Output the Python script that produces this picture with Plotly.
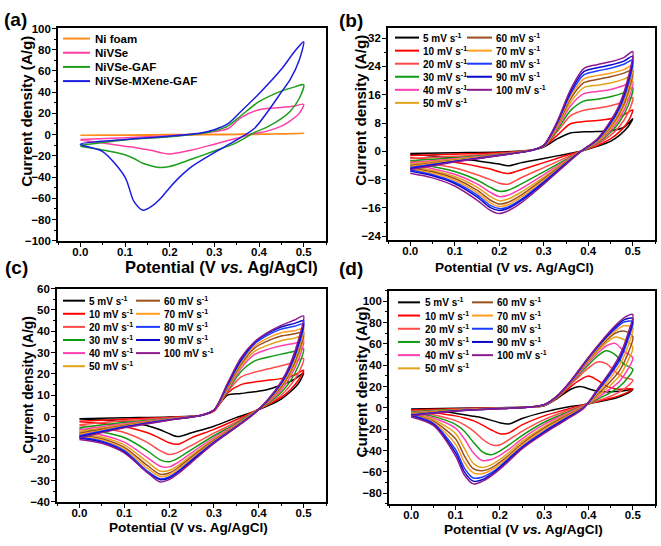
import plotly.graph_objects as go

W, H = 661, 546
FONT = "Liberation Sans, Arial, sans-serif"

# ---------------- shared series info ----------------
RATES = [5, 10, 20, 30, 40, 50, 60, 70, 80, 90, 100]
RATE_LABELS = [f"{r} mV s<sup>-1</sup>" for r in RATES]
RATE_COLORS = ["#000000", "#FF0000", "#FF4A4A", "#129A12", "#FF3FB0", "#E3A21A",
               "#9A4F1C", "#FF9E1F", "#1F3DFF", "#0A0ACF", "#8E1B8E"]

# ---------------- panel (a) ----------------
A_NAMES = ["Ni foam", "NiVSe", "NiVSe-GAF", "NiVSe-MXene-GAF"]
A_COLORS = ["#FF8C1A", "#FF3FA4", "#1E9E1E", "#1C1CE0"]
A_FWD_X = [0.0, 0.1, 0.2, 0.27, 0.3, 0.33, 0.36, 0.4, 0.45, 0.48, 0.5]
A_REV_X = [0.49, 0.47, 0.45, 0.42, 0.39, 0.35, 0.3, 0.25, 0.22, 0.2, 0.18, 0.16, 0.14, 0.12, 0.1, 0.05, 0.0]
A_FWD_Y = [
    [-0.5, -0.3, 0.0, 0.2, 0.3, 0.4, 0.5, 0.6, 0.8, 1.0, 1.2],
    [-4.5, -3.0, -1.0, 1.0, 2.8, 5.5, 16.0, 23.5, 25.5, 27.0, 28.5],
    [-10.0, -5.0, -2.0, 1.0, 3.5, 8.0, 18.0, 31.0, 41.0, 45.0, 47.0],
    [-9.0, -4.6, -1.5, 1.5, 4.6, 10.0, 22.0, 38.5, 61.5, 78.5, 87.5],
]
A_REV_Y = [
    [1.0, 0.8, 0.6, 0.4, 0.2, 0.0, -0.2, -0.3, -0.4, -0.4, -0.4, -0.5, -0.5, -0.5, -0.5, -0.5, -0.5],
    [20.0, 13.0, 8.0, 3.5, 1.0, -3.5, -9.0, -14.5, -17.0, -18.3, -17.0, -15.0, -13.5, -12.0, -11.0, -8.0, -5.0],
    [34.0, 22.0, 15.0, 7.5, 2.0, -7.5, -15.5, -23.0, -27.5, -30.0, -31.0, -29.5, -27.0, -22.5, -19.0, -14.5, -11.0],
    [70.0, 52.0, 40.0, 22.0, 6.0, -5.0, -17.0, -30.0, -41.0, -50.0, -60.0, -67.5, -71.3, -63.0, -40.0, -16.0, -9.0],
]

# ---------------- panel (b) ----------------
B_FWD_X = [0.0, 0.1, 0.2, 0.27, 0.3, 0.33, 0.36, 0.39, 0.42, 0.45, 0.48, 0.5]
B_REV_X = [0.49, 0.47, 0.45, 0.42, 0.385, 0.35, 0.3, 0.25, 0.22, 0.2, 0.18, 0.15, 0.1, 0.05, 0.0]
B_FWD_Y = [
    [-0.6, -0.4, -0.2, 0.3, 1.2, 3.5, 5.2, 5.5, 5.6, 5.8, 6.8, 9.2],
    [-1.2, -0.8, -0.4, 0.3, 1.4, 4.5, 7.8, 8.4, 8.7, 9.2, 10.3, 11.7],
    [-2.0, -1.4, -0.6, 0.3, 1.5, 5.5, 10.0, 11.6, 12.2, 12.9, 14.0, 15.2],
    [-2.7, -1.8, -0.8, 0.2, 1.5, 6.0, 11.5, 14.2, 14.7, 15.4, 16.6, 18.0],
    [-3.2, -2.1, -0.9, 0.2, 1.5, 6.5, 12.8, 16.3, 16.9, 17.5, 18.6, 19.8],
    [-3.6, -2.3, -1.0, 0.2, 1.6, 7.0, 13.8, 18.0, 18.7, 19.3, 20.4, 21.6],
    [-4.0, -2.5, -1.0, 0.2, 1.6, 7.3, 14.8, 19.4, 20.3, 21.1, 22.1, 23.0],
    [-4.3, -2.6, -1.1, 0.2, 1.6, 7.6, 15.5, 20.5, 21.4, 22.1, 23.1, 24.3],
    [-4.6, -2.8, -1.1, 0.2, 1.7, 7.9, 16.2, 21.6, 22.7, 23.5, 24.6, 25.8],
    [-4.9, -2.9, -1.2, 0.2, 1.7, 8.1, 16.8, 22.5, 23.6, 24.4, 25.5, 26.9],
    [-5.2, -3.0, -1.2, 0.2, 1.8, 8.4, 17.4, 23.4, 24.5, 25.3, 26.5, 28.2],
]
B_REV_Y = [
    [7.0, 4.5, 2.8, 1.4, 0.1, -0.8, -2.0, -3.2, -4.1, -3.6, -3.2, -2.7, -1.9, -1.3, -0.9],
    [8.5, 5.5, 3.5, 1.6, 0.1, -1.2, -3.2, -5.2, -6.3, -5.8, -5.0, -4.2, -3.1, -2.4, -1.8],
    [11.0, 7.0, 4.5, 2.0, 0.1, -1.8, -4.6, -7.4, -9.3, -9.0, -8.0, -6.6, -4.7, -3.6, -2.7],
    [13.0, 8.3, 5.3, 2.3, 0.1, -2.3, -5.8, -9.2, -11.0, -11.3, -10.2, -8.1, -5.7, -4.3, -3.3],
    [14.5, 9.2, 5.9, 2.5, 0.1, -2.6, -6.6, -10.5, -12.4, -12.8, -11.6, -9.2, -6.5, -4.9, -3.9],
    [16.0, 10.0, 6.4, 2.7, 0.1, -2.9, -7.3, -11.5, -13.5, -14.0, -12.8, -10.1, -7.1, -5.4, -4.3],
    [17.0, 10.7, 6.9, 2.9, 0.1, -3.1, -7.8, -12.3, -14.4, -14.9, -13.8, -11.0, -7.7, -5.8, -4.7],
    [18.0, 11.3, 7.3, 3.0, 0.1, -3.3, -8.2, -12.9, -15.1, -15.6, -14.6, -11.7, -8.2, -6.2, -5.0],
    [19.0, 12.0, 7.8, 3.2, 0.1, -3.4, -8.6, -13.5, -15.7, -16.2, -15.3, -12.3, -8.7, -6.6, -5.3],
    [20.0, 12.6, 8.2, 3.3, 0.1, -3.5, -8.9, -13.9, -16.1, -16.7, -15.9, -12.9, -9.1, -6.9, -5.6],
    [21.0, 13.2, 8.6, 3.5, 0.1, -3.7, -9.3, -14.5, -16.8, -17.6, -16.7, -13.8, -9.8, -7.5, -6.2],
]

# ---------------- panel (c) ----------------
C_FWD_X = [0.0, 0.1, 0.2, 0.27, 0.3, 0.33, 0.36, 0.39, 0.42, 0.45, 0.48, 0.5]
C_REV_X = [0.49, 0.47, 0.45, 0.42, 0.39, 0.35, 0.3, 0.25, 0.22, 0.2, 0.18, 0.15, 0.1, 0.05, 0.0]
C_FWD_Y = [
    [-1.0, -0.6, -0.2, 0.5, 3.0, 10.0, 10.8, 11.6, 12.7, 14.8, 17.5, 20.5],
    [-2.2, -1.2, -0.4, 0.5, 2.5, 11.0, 15.0, 16.2, 17.0, 17.8, 19.5, 21.8],
    [-3.8, -2.0, -0.6, 0.5, 2.8, 11.5, 18.5, 20.8, 22.3, 23.8, 25.6, 27.2],
    [-5.2, -2.8, -0.9, 0.5, 3.0, 12.0, 21.0, 26.0, 27.8, 29.3, 30.6, 31.8],
    [-6.2, -3.4, -1.0, 0.5, 3.0, 12.5, 22.5, 29.0, 31.5, 33.2, 34.4, 35.4],
    [-7.0, -3.8, -1.2, 0.5, 3.0, 13.0, 23.5, 30.5, 33.5, 35.6, 36.8, 37.9],
    [-7.8, -4.2, -1.3, 0.5, 3.0, 13.5, 24.5, 32.0, 35.5, 37.8, 38.8, 39.5],
    [-8.4, -4.5, -1.4, 0.5, 3.0, 14.0, 25.3, 33.0, 36.8, 39.3, 40.3, 41.2],
    [-9.0, -4.8, -1.5, 0.5, 3.0, 14.5, 26.0, 34.0, 38.2, 41.0, 42.4, 43.4],
    [-9.5, -5.0, -1.6, 0.5, 3.0, 15.0, 26.6, 34.6, 39.0, 42.0, 43.7, 45.0],
    [-10.0, -5.3, -1.7, 0.5, 3.0, 15.5, 27.5, 35.0, 39.5, 42.8, 45.3, 47.2],
]
C_REV_Y = [
    [16.0, 11.5, 8.2, 5.0, 2.4, -0.5, -4.5, -7.6, -9.4, -8.0, -6.2, -4.2, -2.6, -1.6, -1.1],
    [17.5, 12.5, 9.0, 5.5, 2.4, -1.5, -6.0, -10.0, -13.0, -12.3, -10.2, -7.5, -4.8, -3.3, -2.4],
    [21.0, 14.5, 10.0, 5.8, 2.4, -2.5, -7.8, -13.5, -16.8, -17.8, -16.0, -12.0, -7.5, -5.5, -4.2],
    [24.5, 16.5, 11.3, 6.2, 2.2, -3.2, -9.0, -15.5, -19.5, -21.2, -20.3, -15.8, -9.8, -7.2, -5.8],
    [27.5, 18.5, 12.5, 6.6, 2.0, -3.7, -10.0, -17.0, -21.5, -23.6, -23.3, -19.0, -12.0, -8.6, -7.0],
    [29.5, 19.8, 13.4, 6.9, 1.9, -4.0, -10.7, -18.2, -23.0, -25.3, -25.6, -21.0, -13.3, -9.6, -7.8],
    [31.0, 20.8, 14.0, 7.1, 1.8, -4.3, -11.2, -19.0, -24.0, -26.5, -27.1, -22.7, -14.4, -10.4, -8.5],
    [32.5, 21.8, 14.7, 7.3, 1.7, -4.5, -11.6, -19.7, -24.8, -27.4, -28.1, -24.0, -15.3, -11.0, -9.1],
    [34.0, 22.8, 15.3, 7.5, 1.6, -4.7, -12.0, -20.4, -25.6, -28.3, -29.2, -25.3, -16.0, -11.6, -9.6],
    [35.3, 23.6, 15.8, 7.7, 1.5, -4.8, -12.3, -20.8, -26.0, -28.8, -29.6, -26.0, -16.6, -12.0, -10.0],
    [37.0, 24.6, 16.4, 7.9, 1.4, -5.0, -12.6, -21.5, -26.8, -29.6, -30.7, -26.0, -17.0, -12.5, -10.7],
]

# ---------------- panel (d) ----------------
D_FWD_X = [0.0, 0.1, 0.2, 0.27, 0.3, 0.33, 0.36, 0.38, 0.40, 0.42, 0.44, 0.46, 0.48, 0.5]
D_REV_X = [0.49, 0.47, 0.45, 0.42, 0.39, 0.35, 0.3, 0.25, 0.22, 0.2, 0.18, 0.16, 0.14, 0.12, 0.1, 0.05, 0.0]
D_FWD_Y = [
    [-1.0, -0.3, 0.2, 0.8, 2.0, 9.0, 17.5, 20.0, 18.0, 15.5, 15.0, 15.3, 16.0, 17.5],
    [-2.0, -0.8, 0.0, 0.8, 2.2, 9.5, 20.0, 26.0, 29.8, 26.0, 20.5, 18.0, 17.5, 18.0],
    [-3.0, -1.2, -0.2, 0.8, 2.4, 10.0, 22.0, 30.0, 37.5, 43.0, 41.5, 34.0, 28.5, 26.0],
    [-3.8, -1.6, -0.3, 0.8, 2.5, 10.2, 23.0, 32.0, 40.5, 48.5, 53.5, 50.0, 41.0, 36.0],
    [-4.5, -1.9, -0.4, 0.8, 2.6, 10.4, 23.5, 33.0, 42.5, 51.0, 58.0, 60.5, 53.0, 47.0],
    [-5.0, -2.1, -0.5, 0.8, 2.7, 10.6, 24.0, 34.0, 44.0, 53.0, 61.0, 66.5, 64.0, 57.0],
    [-5.5, -2.3, -0.6, 0.8, 2.8, 10.8, 24.3, 34.5, 45.0, 54.5, 63.0, 70.0, 72.0, 67.0],
    [-6.0, -2.5, -0.6, 0.8, 2.9, 11.0, 24.6, 35.0, 45.8, 55.5, 64.5, 72.0, 77.0, 75.0],
    [-6.5, -2.7, -0.7, 0.8, 3.0, 11.2, 24.9, 35.5, 46.5, 56.5, 66.0, 74.0, 80.5, 81.0],
    [-7.0, -2.9, -0.7, 0.8, 3.0, 11.4, 25.2, 36.0, 47.0, 57.2, 67.0, 75.5, 82.5, 84.0],
    [-7.5, -3.0, -0.8, 0.8, 3.0, 11.6, 25.5, 36.5, 47.5, 58.0, 68.0, 77.0, 84.5, 87.5],
]
D_REV_Y = [
    [14.0, 10.5, 8.0, 5.5, 3.0, 0.5, -4.0, -10.0, -15.2, -14.0, -11.5, -9.3, -7.8, -6.5, -5.0, -2.8, -1.5],
    [15.0, 11.5, 9.0, 6.0, 3.0, -1.5, -7.5, -16.0, -23.5, -24.2, -20.5, -16.0, -12.0, -9.5, -7.5, -4.5, -2.5],
    [21.0, 15.0, 11.0, 6.5, 2.5, -3.0, -11.0, -22.0, -30.0, -34.8, -34.5, -29.0, -21.5, -16.0, -12.0, -6.5, -3.5],
    [29.0, 20.0, 14.5, 8.0, 2.0, -4.5, -13.5, -26.0, -35.0, -40.5, -44.0, -41.0, -32.0, -22.0, -15.5, -8.0, -4.5],
    [37.0, 25.0, 18.0, 9.5, 2.0, -5.5, -15.5, -29.0, -39.0, -44.5, -48.5, -49.3, -42.0, -29.0, -19.0, -9.5, -5.0],
    [45.0, 30.0, 21.5, 11.0, 1.5, -6.5, -17.5, -31.5, -42.0, -48.5, -53.5, -56.0, -52.0, -38.0, -24.0, -11.0, -5.5],
    [52.0, 35.0, 25.0, 12.5, 1.5, -7.5, -19.0, -33.5, -44.5, -51.0, -56.5, -59.0, -57.0, -45.0, -29.0, -12.5, -6.0],
    [59.0, 40.0, 28.5, 14.0, 1.0, -8.5, -20.5, -35.0, -46.0, -53.0, -58.5, -61.8, -61.0, -51.0, -34.0, -13.5, -6.5],
    [65.0, 44.0, 31.5, 15.5, 0.5, -9.5, -22.0, -36.5, -47.5, -55.0, -61.0, -65.0, -65.8, -56.5, -39.0, -14.5, -7.0],
    [68.0, 46.5, 33.5, 16.5, 0.5, -10.0, -23.0, -37.5, -48.5, -56.0, -62.5, -67.5, -68.7, -60.0, -42.0, -15.5, -7.5],
    [71.0, 49.0, 35.0, 17.5, 0.0, -11.0, -24.0, -38.5, -50.0, -57.5, -64.0, -69.0, -71.3, -63.0, -45.0, -16.5, -8.5],
]

X_TITLE = "Potential (V <i>vs.</i> Ag/AgCl)"
X_TITLE_C = "Potential (V vs. Ag/AgCl)"
Y_TITLE = "Current density (A/g)"

# ---------------- layout geometry (pixels) ----------------
PANELS = [
    dict(ax="", box=(58, 326, 23, 240), yr=(-100, 100), dt=20, names=A_NAMES, colors=A_COLORS,
         fx=A_FWD_X, rx=A_REV_X, fy=A_FWD_Y, ry=A_REV_Y, label="(a)", lab=(15, 14),
         ytitle=(27, 108, 15.2), xtitle=(221, 267, 16.5, X_TITLE),
         leg=dict(cols=[(63, 90, 93)], split=4, y0=33.3, step=14.5, fs=11.5)),
    dict(ax="2", box=(388, 655, 22, 239), yr=(-25, 35), dt=8, names=RATE_LABELS, colors=RATE_COLORS,
         fx=B_FWD_X, rx=B_REV_X, fy=B_FWD_Y, ry=B_REV_Y, label="(b)", lab=(351, 15),
         ytitle=(361, 107, 15.2), xtitle=(514, 267, 13.6, X_TITLE),
         leg=dict(cols=[(395, 419, 421), (467, 492, 494)], split=6, y0=32.3, step=13.35, fs=10)),
    dict(ax="3", box=(57, 326, 289, 507), yr=(-40, 60), dt=10, names=RATE_LABELS, colors=RATE_COLORS,
         fx=C_FWD_X, rx=C_REV_X, fy=C_FWD_Y, ry=C_REV_Y, label="(c)", lab=(16, 267),
         ytitle=(28, 388, 13.8), xtitle=(188, 533, 13.6, X_TITLE_C),
         leg=dict(cols=[(63, 85, 87.5), (136, 160, 161.5)], split=6, y0=301.3, step=13.4, fs=10)),
    dict(ax="4", box=(389, 655, 291, 509), yr=(-90, 110), dt=20, names=RATE_LABELS, colors=RATE_COLORS,
         fx=D_FWD_X, rx=D_REV_X, fy=D_FWD_Y, ry=D_REV_Y, label="(d)", lab=(351, 268),
         ytitle=(362, 385, 15.2), xtitle=(523, 535, 13.6, X_TITLE),
         leg=dict(cols=[(398, 420, 422.5), (472, 493, 495)], split=6, y0=303, step=13.5, fs=10)),
]


def px(x):
    return x / W


def py(y):
    return 1 - y / H


fig = go.Figure()
shapes = []
annotations = []
layout_axes = {}

for p in PANELS:
    ax = p["ax"]
    x0, x1, yt, yb = p["box"]
    for name, col, fyy, ryy in zip(p["names"], p["colors"], p["fy"], p["ry"]):
        fig.add_trace(go.Scatter(
            x=list(p["fx"]) + list(p["rx"]), y=list(fyy) + list(ryy),
            mode="lines", name=name, showlegend=False, hoverinfo="skip",
            line=dict(color=col, width=1.5, shape="spline", smoothing=0.8),
            xaxis="x" + ax, yaxis="y" + ax,
        ))
    common = dict(showline=True, linecolor="black", linewidth=1.6, mirror=True,
                  ticks="outside", ticklen=4, tickwidth=1.4, tickcolor="black",
                  showgrid=False, zeroline=False,
                  tickfont=dict(family=FONT, size=11.5, color="black", weight="bold"))
    layout_axes["xaxis" + ax] = dict(
        common, domain=[px(x0), px(x1)], range=[-0.05, 0.55], anchor="y" + ax,
        tick0=0, dtick=0.1, tickformat=".1f", ticklabelstandoff=-4,
        minor=dict(ticks="outside", ticklen=2.5, tickwidth=1.2, tickcolor="black", tick0=0, dtick=0.05))
    layout_axes["yaxis" + ax] = dict(
        common, domain=[py(yb), py(yt)], range=list(p["yr"]), anchor="x" + ax,
        tick0=0, dtick=p["dt"], ticklabelstandoff=-1,
        minor=dict(ticks="outside", ticklen=2.5, tickwidth=1.2, tickcolor="black", tick0=0, dtick=p["dt"] / 2))

    tx, ty, tfs = p["ytitle"]
    annotations.append(dict(x=px(tx), y=py(ty), xref="paper", yref="paper", text=Y_TITLE,
                            textangle=-90, showarrow=False, xanchor="center", yanchor="middle",
                            font=dict(family=FONT, size=tfs, color="black", weight="bold")))
    tx, ty, tfs, ttxt = p["xtitle"]
    annotations.append(dict(x=px(tx), y=py(ty), xref="paper", yref="paper", text=ttxt,
                            showarrow=False, xanchor="center", yanchor="middle",
                            font=dict(family=FONT, size=tfs, color="black", weight="bold")))
    lx, ly = p["lab"]
    annotations.append(dict(x=px(lx), y=py(ly), xref="paper", yref="paper", text=p["label"],
                            showarrow=False, xanchor="center", yanchor="middle",
                            font=dict(family=FONT, size=19, color="black", weight="bold")))
    lg = p["leg"]
    for i, (name, col) in enumerate(zip(p["names"], p["colors"])):
        c = 0 if i < lg["split"] else 1
        r = i if c == 0 else i - lg["split"]
        lx0, lx1, ltx = lg["cols"][c]
        yy = lg["y0"] + r * lg["step"]
        shapes.append(dict(type="line", xref="paper", yref="paper", x0=px(lx0), x1=px(lx1),
                           y0=py(yy), y1=py(yy), line=dict(color=col, width=2)))
        annotations.append(dict(x=px(ltx), y=py(yy), xref="paper", yref="paper", text=name,
                                showarrow=False, xanchor="left", yanchor="middle",
                                font=dict(family=FONT, size=lg["fs"], color="black", weight="bold")))

fig.update_layout(
    width=W, height=H, margin=dict(l=0, r=0, t=0, b=0),
    paper_bgcolor="white", plot_bgcolor="white",
    shapes=shapes, annotations=annotations, showlegend=False,
    **layout_axes,
)

fig.write_html("out.html", config={"displayModeBar": False},
               post_script="document.body.style.margin='0';document.body.style.overflow='hidden';")
